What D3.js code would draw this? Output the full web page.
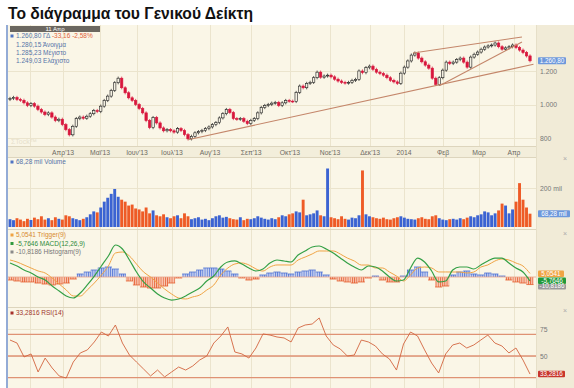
<!DOCTYPE html>
<html><head><meta charset="utf-8">
<script src="https://cdn.jsdelivr.net/npm/d3@7"></script>
<style>body{margin:0;background:#fff}svg{display:block}text{font-family:Arial,"Liberation Sans",sans-serif}</style>
</head><body><svg id="c" width="574" height="388"></svg>
<script>
// ---------- DATA ----------
const titleText = "Το διάγραμμα του Γενικού Δείκτη";
const firstOpen = 1030;
const closes = [1036,1042,1030,1025,1010,994,1005,990,970,955,
 940,950,925,904,912,880,850,819,870,916,
 925,918,930,945,964,958,990,1024,1050,1084,
 1130,1157,1100,1070,1040,1024,1000,976,950,904,
 862,922,890,860,843,850,843,835,856,845,
 820,795,810,831,838,845,856,866,880,892,
 920,945,970,952,916,912,916,900,886,905,
 916,950,982,994,1000,1008,1012,994,1010,1024,
 1020,1018,1072,1110,1100,1126,1132,1160,1193,1163,
 1170,1175,1165,1151,1140,1132,1128,1132,1144,1150,
 1200,1190,1220,1229,1210,1193,1185,1175,1160,1144,
 1135,1126,1187,1223,1260,1295,1307,1277,1255,1235,
 1217,1157,1120,1160,1205,1253,1245,1253,1268,1277,
 1253,1223,1283,1300,1313,1330,1343,1350,1355,1367,
 1345,1330,1338,1345,1355,1340,1325,1310,1290,1260.8];
const volumes = [40,35,45,38,30,42,36,48,40,55,
 38,45,35,50,42,38,60,55,45,40,
 35,42,50,65,80,75,100,130,150,170,
 195,155,140,130,110,115,95,90,80,100,
 70,85,60,55,65,50,45,55,60,45,
 70,55,40,45,50,38,42,35,45,55,
 60,48,52,45,40,38,50,35,42,40,
 45,55,48,42,38,45,40,50,60,55,
 65,70,80,75,140,60,65,70,85,60,
 55,300,50,45,40,55,42,38,48,45,
 60,290,65,55,50,45,42,48,40,38,
 45,50,55,48,42,40,38,45,50,42,
 40,55,60,45,38,35,40,42,38,45,
 40,48,55,50,60,65,80,75,60,70,
 85,120,110,70,90,130,225,140,100,68.28];
const monthPos = [5.7,15.2,25.8,36.4,46.4,57.3,69.1,80.2,91.7,103.2,112.9,124.1,134.4,144.4];
const monthLabels = ["","Απρ'13","Μαϊ'13","Ιουν'13","Ιουλ'13","Αυγ'13","Σεπ'13","Οκτ'13","Νοε'13","Δεκ'13","2014","Φεβ","Μαρ","Απρ"];
const priceTicks = [800,1000,1200];
const priceTickLabels = ["800","1.000","1.200"];
const trendStart = [[51,790],[115.5,1307],[123.2,1114]];
const trendEnd = [[150,1240],[146.7,1403],[146.7,1373]];
const macd = [20.0,15.7,10.0,5.7,0,-4.3,-12.9,-20.0,-27.1,-30.0,
 -22.9,-11.4,1.4,15.7,30.0,45.7,40.0,24.3,7.1,-7.1,
 -15.7,-24.3,-30.0,-32.9,-31.4,-27.1,-21.4,-15.7,-5.7,1.4,
 14.3,21.4,22.9,18.6,12.9,8.6,11.4,20.0,24.3,22.9,
 21.4,31.4,37.1,42.9,44.3,40.0,34.3,27.1,20.0,14.3,
 10.0,15.7,14.3,8.6,0,-5.7,-4.3,12.9,27.1,21.4,
 8.6,-7.1,-5.7,10.0,14.3,14.3,11.4,17.1,22.9,27.1,
 27.1,20.0,12.9,7.1,-5.7646];
const trigger = [24.3,21.4,17.1,12.8,8.6,5.7,-1.5,-10.0,-18.5,-27.1,
 -27.2,-18.5,-8.6,2.8,15.7,34.3,35.7,30.0,18.5,7.2,
 0,-8.6,-17.1,-24.3,-30.0,-31.4,-28.5,-25.7,-18.6,-11.5,
 2.9,12.8,18.6,20.0,17.2,11.5,8.5,14.3,17.2,17.2,
 17.1,24.3,28.5,32.9,37.2,37.1,37.2,32.8,27.1,22.9,
 17.1,17.1,12.9,12.9,7.1,1.4,-5.7,2.9,12.8,14.3,
 12.9,7.2,7.2,7.1,7.2,5.7,7.1,14.2,17.2,22.8,
 25.7,24.3,20.0,15.7,5.0541];
const histogram = [-4.3,-5.7,-7.1,-7.1,-8.6,-10.0,-11.4,-10.0,-8.6,-2.9,
 4.3,7.1,10.0,12.9,14.3,11.4,4.3,-5.7,-11.4,-14.3,
 -15.7,-15.7,-12.9,-8.6,-1.4,4.3,7.1,10.0,12.9,12.9,
 11.4,8.6,4.3,-1.4,-4.3,-2.9,2.9,5.7,7.1,5.7,
 4.3,7.1,8.6,10.0,7.1,2.9,-2.9,-5.7,-7.1,-8.6,
 -7.1,-1.4,1.4,-4.3,-7.1,-7.1,1.4,10.0,14.3,7.1,
 -4.3,-14.3,-12.9,2.9,7.1,8.6,4.3,2.9,5.7,4.3,
 1.4,-4.3,-7.1,-8.6,-10.8186];
const rsi = [64.8,62.0,49.1,51.9,35.2,48.1,38.9,31.5,29.6,44.4,
 52.8,55.6,63.0,72.2,68.5,78.7,62.0,50.9,44.4,38.0,
 31.5,37.0,30.6,35.2,39.8,37.0,40.7,46.3,50.0,62.0,
 68.5,76.9,53.7,51.9,48.1,57.4,70.4,69.4,67.6,66.7,
 63.0,75.9,78.7,79.6,85.2,68.5,60.2,56.5,50.0,50.9,
 64.8,63.0,59.3,51.9,47.2,37.0,61.1,72.2,68.5,55.6,
 43.5,34.3,51.9,60.2,62.0,57.4,60.2,64.8,69.4,62.0,
 59.3,52.8,57.4,46.3,33.2816];
const rsiLevels = [70,50,30];
const rsiTicks = [75,50];

// ---------- DRAW ----------
const svg = d3.select('#c');
const L = 8, R = 536;
const P = {top:25, bot:146}, D = {top:146, bot:157}, V = {top:157, bot:229}, M = {top:229, bot:307}, S = {top:307, bot:388};
const xs = d3.scaleLinear().domain([0, closes.length-1]).range([10, 530]);
const xj = d3.scaleLinear().domain([0, macd.length-1]).range([10, 530]);
const yP = d3.scaleLinear().domain([800,1200]).range([138,71]);
const yV = d3.scaleLinear().domain([0,200]).range([227,188]);
const yM = d3.scaleLinear().domain([-40,40]).range([305,249]);
const yR = d3.scaleLinear().domain([25,75]).range([383,329]);

const defs = svg.append('defs');
function clip(id, p){ defs.append('clipPath').attr('id',id).append('rect').attr('x',L).attr('y',p.top).attr('width',R-L).attr('height',p.bot-p.top); }
clip('cp',P); clip('cv',V); clip('cm',M); clip('cr',S);
function pat(id,bg,fg){ const p=defs.append('pattern').attr('id',id).attr('patternUnits','userSpaceOnUse').attr('width',2.2).attr('height',10);
 p.append('rect').attr('width',2.2).attr('height',10).attr('fill',bg);
 p.append('rect').attr('width',0.9).attr('height',10).attr('fill',fg); }
pat('hb','#c9d3f0','#5a7bd8'); pat('ho','#f8cdb8','#e8663c');

// backgrounds
svg.append('rect').attr('width',574).attr('height',388).attr('fill','#fff');
svg.append('rect').attr('x',L).attr('y',25).attr('width',574-L).attr('height',363).attr('fill','#faf6e7');
svg.append('rect').attr('x',R).attr('y',25).attr('width',574-R).attr('height',363).attr('fill','#f1ebd7');
svg.append('rect').attr('x',L).attr('y',D.top).attr('width',R-L).attr('height',D.bot-D.top).attr('fill','#f3eedb');
svg.append('line').attr('x1',7).attr('x2',7).attr('y1',25).attr('y2',388).attr('stroke','#6f8fc8').attr('stroke-width',1.5);

// title
svg.append('text').attr('x',8).attr('y',19).attr('font-family','Lato, "Open Sans", sans-serif').attr('font-weight','bold').attr('font-size',17)
 .attr('textLength',245).attr('lengthAdjust','spacingAndGlyphs').attr('fill','#111').text(titleText);

// vertical gridlines
[P,V,M,S].forEach(p=>{
 svg.append('g').selectAll('line').data(monthPos).join('line')
  .attr('x1',d=>Math.round(xs(d))+0.5).attr('x2',d=>Math.round(xs(d))+0.5).attr('y1',p.top).attr('y2',p.bot)
  .attr('stroke','#ebe4cd').attr('stroke-width',1);
});
// panel separators
[D.top,D.bot,M.top,S.top].forEach(y=>{
 svg.append('line').attr('x1',L).attr('x2',R).attr('y1',y+0.5).attr('y2',y+0.5).attr('stroke','#ddd5bd');
});
svg.append('line').attr('x1',R+0.5).attr('x2',R+0.5).attr('y1',25).attr('y2',388).attr('stroke','#e6dfc8');

// date labels
svg.append('g').selectAll('text').data(monthPos).join('text')
 .attr('x',d=>xs(d)).attr('y',154.5).attr('text-anchor','middle').attr('font-size',6.8).attr('fill','#6d6a62')
 .text((d,i)=>monthLabels[i]);

// price gridlines + labels
svg.append('g').selectAll('line').data(priceTicks).join('line')
 .attr('x1',L).attr('x2',R).attr('y1',d=>Math.round(yP(d))+0.5).attr('y2',d=>Math.round(yP(d))+0.5).attr('stroke','#ebe4cd');
svg.append('g').selectAll('text').data(priceTicks).join('text')
 .attr('x',540).attr('y',d=>yP(d)+2.5).attr('font-size',6.8).attr('fill','#777').text((d,i)=>priceTickLabels[i]);

// watermark
svg.append('text').attr('x',11).attr('y',144).attr('font-size',7).attr('fill','#e6dfcb').text('ΣTock™');

// candles
const opens = closes.map((c,i)=> i ? closes[i-1] : firstOpen);
const gC = svg.append('g').attr('clip-path','url(#cp)');
closes.forEach((c,i)=>{
 const o = opens[i], up = c >= o;
 const x = xs(i), yt = yP(Math.max(o,c)), yb = yP(Math.min(o,c));
 const col = up ? '#1e1e1e' : '#d8163c';
 gC.append('line').attr('x1',x).attr('x2',x).attr('y1',yt-1.6).attr('y2',yb+1.6).attr('stroke',col).attr('stroke-width',0.7);
 gC.append('rect').attr('x',x-1.2).attr('y',yt).attr('width',2.4).attr('height',Math.max(0.8,yb-yt))
  .attr('fill',up?'#f4f0e2':'#d8163c').attr('stroke',col).attr('stroke-width',0.6);
});
// trend lines
gC.append('g').selectAll('line').data(trendStart).join('line')
 .attr('x1',d=>xs(d[0])).attr('y1',d=>yP(d[1]))
 .attr('x2',(d,i)=>xs(trendEnd[i][0])).attr('y2',(d,i)=>yP(trendEnd[i][1]))
 .attr('stroke','#c4866a').attr('stroke-width',1.1);

// price info box
svg.append('rect').attr('x',10).attr('y',26).attr('width',90).attr('height',6).attr('fill','#6b6760');
svg.append('text').attr('x',55).attr('y',31).attr('text-anchor','middle').attr('font-size',6).attr('fill','#fff').text('11 Απρ');
svg.append('rect').attr('x',10.5).attr('y',34.5).attr('width',3).attr('height',3).attr('fill','#4f74c4');
const t1 = svg.append('text').attr('x',16).attr('y',38.3).attr('font-size',6.5);
t1.append('tspan').attr('fill','#5574a8').text('1.260,80 ΓΔ ');
t1.append('tspan').attr('fill','#e0623c').text('-33,16 -2,58%');
[['1.280,15 Άνοιγμα',46.6],['1.285,23 Μέγιστο',55],['1.249,03 Ελάχιστο',63.3]].forEach(d=>{
 svg.append('text').attr('x',16).attr('y',d[1]).attr('font-size',6.5).attr('fill','#5574a8').text(d[0]);
});
// last price box
function valBox(x,y,w,h,fill,txt){
 svg.append('rect').attr('x',x).attr('y',y).attr('width',w).attr('height',h).attr('rx',1).attr('fill',fill);
 svg.append('text').attr('x',x+w/2).attr('y',y+h-1.3).attr('text-anchor','middle').attr('font-size',6.3).attr('fill','#fff').text(txt);
}
valBox(538, yP(closes[closes.length-1])-3.5, 28, 7, '#6d98dc', '1.260,80');

// volume
const gV = svg.append('g').attr('clip-path','url(#cv)');
gV.append('line').attr('x1',L).attr('x2',R).attr('y1',Math.round(yV(200))+0.5).attr('y2',Math.round(yV(200))+0.5).attr('stroke','#ebe4cd');
gV.selectAll('rect').data(volumes).join('rect')
 .attr('x',(d,i)=>xs(i)-1.45).attr('width',2.9)
 .attr('y',d=>yV(d)).attr('height',d=>yV(0)-yV(d))
 .attr('fill',(d,i)=> closes[i] >= opens[i] ? '#3b63d2' : '#ee5b26');
svg.append('text').attr('x',540).attr('y',yV(200)+2.5).attr('font-size',6.8).attr('fill','#777').text('200 mil');
valBox(538, yV(volumes[volumes.length-1])-3.5, 32, 7, '#6d98dc', '68,28 mil');
svg.append('rect').attr('x',10.5).attr('y',160.5).attr('width',3).attr('height',3).attr('fill','#4f74c4');
svg.append('text').attr('x',16).attr('y',164.3).attr('font-size',6.5).attr('fill','#5574a8').text('68,28 mil Volume');

// MACD
const gM = svg.append('g').attr('clip-path','url(#cm)');
histogram.forEach((v,j)=>{
 const y0 = yM(0), y1 = yM(v);
 gM.append('rect').attr('x',xj(j)-3.55).attr('width',7.1).attr('y',Math.min(y0,y1)).attr('height',Math.abs(y1-y0))
  .attr('fill', v>=0 ? 'url(#hb)' : 'url(#ho)');
 gM.append('line').attr('x1',xj(j)-3.55).attr('x2',xj(j)+3.55).attr('y1',y1).attr('y2',y1)
  .attr('stroke', v>=0 ? '#4f72d2' : '#e4602f').attr('stroke-width',0.8);
});
gM.append('line').attr('x1',L).attr('x2',R).attr('y1',yM(0)).attr('y2',yM(0)).attr('stroke','#e9a58a').attr('stroke-width',0.8);
const lineJ = d3.line().x((d,j)=>xj(j)).y(d=>yM(d)).curve(d3.curveMonotoneX);
gM.append('path').attr('d',lineJ(trigger)).attr('fill','none').attr('stroke','#f0a444').attr('stroke-width',1);
gM.append('path').attr('d',lineJ(macd)).attr('fill','none').attr('stroke','#34a046').attr('stroke-width',1.2);
[['#f0a444','5,0541 Trigger(9)','#d98a2e',237],['#2f9a3e','-5,7646 MACD(12,26,9)','#2f8a3a',245.5],['#8a8a8a','-10,8186 Histogram(9)','#777',254]].forEach(d=>{
 svg.append('rect').attr('x',10.5).attr('y',d[3]-3.5).attr('width',3).attr('height',3).attr('fill',d[0]);
 svg.append('text').attr('x',16).attr('y',d[3]+0.3).attr('font-size',6.5).attr('fill',d[2]).text(d[1]);
});
valBox(538, 270.5, 26, 6.5, '#f0a444', '5,0541');
valBox(538, 277.5, 28, 6.5, '#22993a', '-5,7646');
valBox(538, 284, 28, 5.5, '#9a9a9a', '-10,8186');

// RSI
const gR = svg.append('g').attr('clip-path','url(#cr)');
gR.selectAll('line.g').data(rsiTicks).join('line')
 .attr('x1',L).attr('x2',R).attr('y1',d=>Math.round(yR(d))+0.5).attr('y2',d=>Math.round(yR(d))+0.5).attr('stroke','#ebe4cd');
gR.selectAll('line.lv').data(rsiLevels).join('line')
 .attr('x1',L).attr('x2',R).attr('y1',d=>yR(d)).attr('y2',d=>yR(d)).attr('stroke','#df9274').attr('stroke-width',1.4);
gR.append('path').attr('d',d3.line().x((d,j)=>xj(j)).y(d=>yR(d))(rsi)).attr('fill','none').attr('stroke','#d3643e').attr('stroke-width',0.9);
svg.append('g').selectAll('text').data(rsiTicks).join('text')
 .attr('x',540).attr('y',d=>yR(d)+2.5).attr('font-size',6.8).attr('fill','#777').text(d=>d);
svg.append('rect').attr('x',10.5).attr('y',311.5).attr('width',3).attr('height',3).attr('fill','#a8302a');
svg.append('text').attr('x',16).attr('y',315.3).attr('font-size',6.5).attr('fill','#a0382c').text('33,2816 RSI(14)');
valBox(538, yR(rsi[rsi.length-1])-3.3, 27, 6.6, '#c8362c', '33,2816');

// close icons
[161,236,313].forEach(y=> svg.append('text').attr('x',563).attr('y',y).attr('font-size',7).attr('fill','#aaa').text('×'));
</script></body></html>
